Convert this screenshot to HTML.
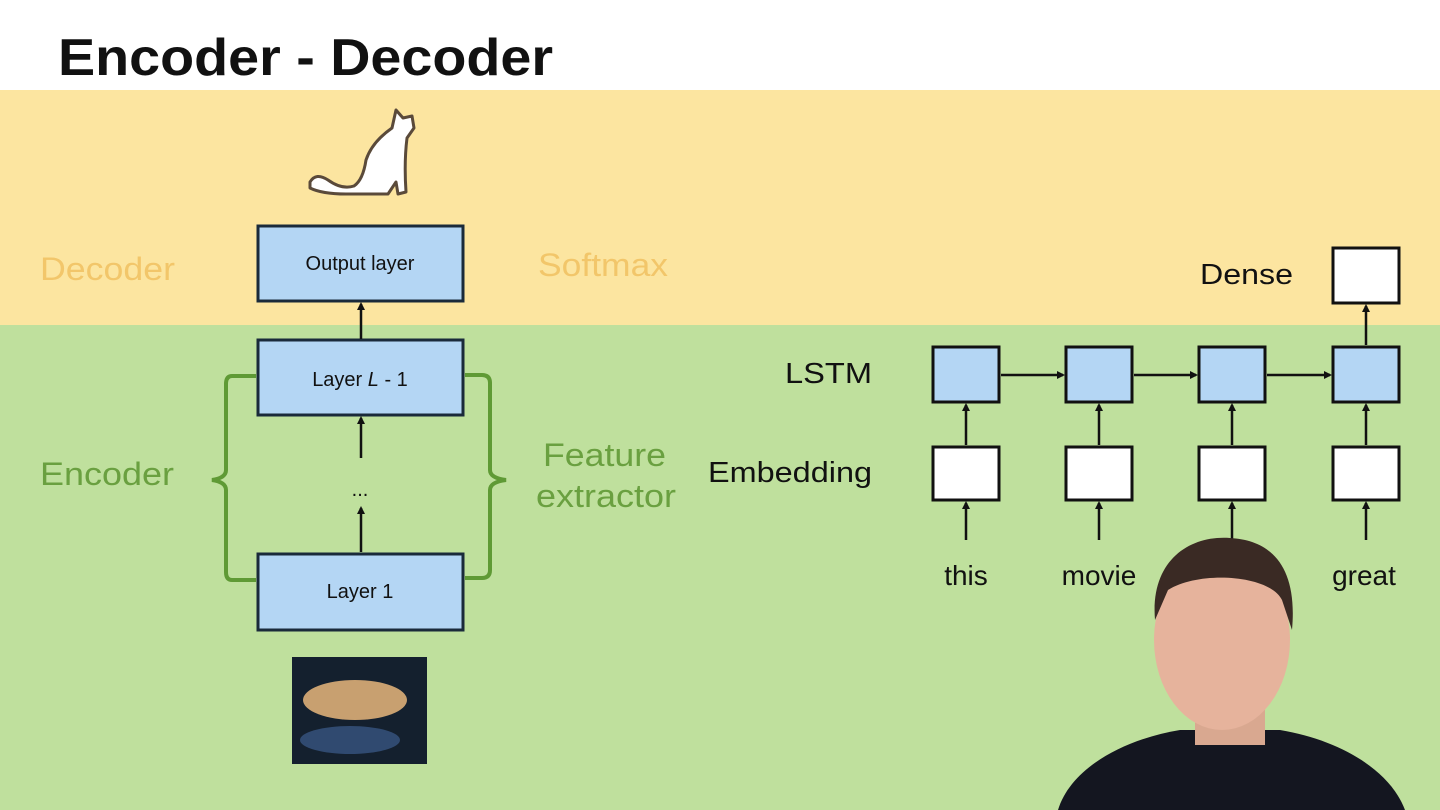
<!DOCTYPE html>
<html><head><meta charset="utf-8"><style>
html,body{margin:0;padding:0;width:1440px;height:810px;overflow:hidden;background:#fff}
svg{display:block}
text{font-family:"Liberation Sans",Arial,sans-serif}
</style></head><body>
<svg width="1440" height="810" viewBox="0 0 1440 810" xmlns="http://www.w3.org/2000/svg">
<defs>
<marker id="a" markerWidth="8" markerHeight="8" refX="6" refY="4" orient="auto" markerUnits="userSpaceOnUse"><path d="M0,0 L8,4 L0,8 z" fill="#111"/></marker>
</defs>
<rect width="1440" height="810" fill="#fff"/>
<text x="58" y="75" font-size="52" font-weight="bold" fill="#111" textLength="495" lengthAdjust="spacingAndGlyphs">Encoder - Decoder</text>
<rect x="0" y="90" width="1440" height="235" fill="#fce5a0"/>
<rect x="0" y="325" width="1440" height="485" fill="#bfe09d"/>
<!-- cat -->
<path d="M310,182 Q316,172 328,180 Q342,190 354,186 Q363,180 366,160 Q372,142 392,128 L396,110 L403,118 L412,116 L414,128 L407,138 Q404,162 406,192 L398,194 L396,182 L388,194 L346,194 Q322,194 310,188 Z" fill="#fff" stroke="#5a4a3a" stroke-width="3" stroke-linejoin="round"/>
<!-- left labels -->
<text x="40" y="280" font-size="32" fill="#f2c66a" textLength="135" lengthAdjust="spacingAndGlyphs">Decoder</text>
<text x="538" y="276" font-size="32" fill="#f2c66a" textLength="130" lengthAdjust="spacingAndGlyphs">Softmax</text>
<text x="40" y="485" font-size="32" fill="#6aa040" textLength="134" lengthAdjust="spacingAndGlyphs">Encoder</text>
<text x="543" y="466" font-size="32" fill="#6aa040" textLength="123" lengthAdjust="spacingAndGlyphs">Feature</text>
<text x="536" y="507" font-size="32" fill="#6aa040" textLength="140" lengthAdjust="spacingAndGlyphs">extractor</text>
<!-- boxes -->
<g stroke="#1a2a3a" stroke-width="3" fill="#b4d6f4">
<rect x="258" y="226" width="205" height="75"/>
<rect x="258" y="340" width="205" height="75"/>
<rect x="258" y="554" width="205" height="76"/>
</g>
<text x="360" y="270" font-size="20" text-anchor="middle" fill="#111">Output layer</text>
<text x="360" y="386" font-size="20" text-anchor="middle" fill="#111">Layer <tspan font-style="italic">L</tspan> - 1</text>
<text x="360" y="598" font-size="20" text-anchor="middle" fill="#111">Layer 1</text>
<text x="360" y="496" font-size="20" text-anchor="middle" fill="#111">...</text>
<g stroke="#111" stroke-width="2.5" marker-end="url(#a)">
<line x1="361" y1="339" x2="361" y2="304"/>
<line x1="361" y1="458" x2="361" y2="418"/>
<line x1="361" y1="552" x2="361" y2="508"/>
</g>
<!-- braces -->
<path d="M256,376 L232,376 Q226,376 226,384 L226,470 Q226,478 212,480 Q226,482 226,490 L226,572 Q226,580 232,580 L256,580" fill="none" stroke="#5f9a35" stroke-width="4"/>
<path d="M465,375 L482,375 Q490,375 490,383 L490,470 Q490,478 506,480 Q490,482 490,490 L490,570 Q490,578 482,578 L465,578" fill="none" stroke="#5f9a35" stroke-width="4"/>
<!-- photo -->
<rect x="292" y="657" width="135" height="107" fill="#14202e"/>
<ellipse cx="355" cy="700" rx="52" ry="20" fill="#c8a070"/>
<ellipse cx="350" cy="740" rx="50" ry="14" fill="#304a70"/>
<!-- right diagram -->
<text x="1200" y="284" font-size="29" fill="#111" textLength="93" lengthAdjust="spacingAndGlyphs">Dense</text>
<text x="785" y="383" font-size="29" fill="#111" textLength="87" lengthAdjust="spacingAndGlyphs">LSTM</text>
<text x="708" y="482" font-size="29" fill="#111" textLength="164" lengthAdjust="spacingAndGlyphs">Embedding</text>
<rect x="1333" y="248" width="66" height="55" fill="#fff" stroke="#111" stroke-width="3"/>
<g stroke="#111" stroke-width="3" fill="#b4d6f4">
<rect x="933" y="347" width="66" height="55"/>
<rect x="1066" y="347" width="66" height="55"/>
<rect x="1199" y="347" width="66" height="55"/>
<rect x="1333" y="347" width="66" height="55"/>
</g>
<g stroke="#111" stroke-width="3" fill="#fff">
<rect x="933" y="447" width="66" height="53"/>
<rect x="1066" y="447" width="66" height="53"/>
<rect x="1199" y="447" width="66" height="53"/>
<rect x="1333" y="447" width="66" height="53"/>
</g>
<g stroke="#111" stroke-width="2.5" marker-end="url(#a)">
<line x1="1001" y1="375" x2="1063" y2="375"/>
<line x1="1134" y1="375" x2="1196" y2="375"/>
<line x1="1267" y1="375" x2="1330" y2="375"/>
<line x1="1366" y1="345" x2="1366" y2="306"/>
<line x1="966" y1="445" x2="966" y2="405"/>
<line x1="1099" y1="445" x2="1099" y2="405"/>
<line x1="1232" y1="445" x2="1232" y2="405"/>
<line x1="1366" y1="445" x2="1366" y2="405"/>
<line x1="966" y1="540" x2="966" y2="503"/>
<line x1="1099" y1="540" x2="1099" y2="503"/>
<line x1="1232" y1="540" x2="1232" y2="503"/>
<line x1="1366" y1="540" x2="1366" y2="503"/>
</g>
<text x="966" y="585" font-size="28" text-anchor="middle" fill="#111">this</text>
<text x="1099" y="585" font-size="28" text-anchor="middle" fill="#111">movie</text>
<text x="1232" y="585" font-size="28" text-anchor="middle" fill="#111">is</text>
<text x="1364" y="585" font-size="28" text-anchor="middle" fill="#111">great</text>
<!-- person -->
<path d="M1058,810 C1070,770 1120,740 1180,730 L1280,730 C1340,740 1390,770 1405,810 Z" fill="#141620"/>
<rect x="1195" y="690" width="70" height="55" fill="#d9a890"/>
<ellipse cx="1222" cy="640" rx="68" ry="90" fill="#e6b39c"/>
<path d="M1155,620 C1150,560 1190,535 1230,538 C1270,540 1298,565 1292,630 L1282,600 C1270,575 1200,570 1168,590 Z" fill="#3a2a24"/>
</svg>
</body></html>
